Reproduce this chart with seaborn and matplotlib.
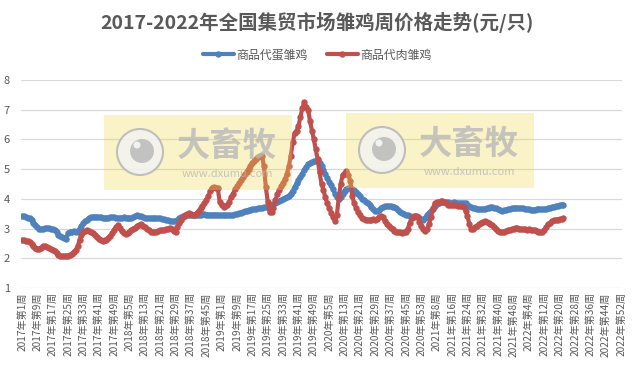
"""
2017-2022 weekly chick prices at national country fairs.
"""

import numpy as np
import pandas as pd
import matplotlib
matplotlib.use('Agg')
import matplotlib.pyplot as plt
from matplotlib.patches import Rectangle, Ellipse
from matplotlib.lines import Line2D
import seaborn as sns

W, H = 634, 375

title = '2017-2022年全国集贸市场雏鸡周价格走势(元/只)'
series_names = ['商品代蛋雏鸡', '商品代肉雏鸡']
series_colors = ['#4f81bd', '#c0504d']

tick_labels = [
    '2017年第1周', '2017年第9周', '2017年第17周', '2017年第25周', '2017年第33周',
    '2017年第41周', '2017年第49周', '2018年第5周', '2018年第13周', '2018年第21周',
    '2018年第29周', '2018年第37周', '2018年第45周', '2019年第1周', '2019年第9周',
    '2019年第17周', '2019年第25周', '2019年第33周', '2019年第41周', '2019年第49周',
    '2020年第5周', '2020年第13周', '2020年第21周', '2020年第29周', '2020年第37周',
    '2020年第45周', '2020年第53周', '2021年第8周', '2021年第16周', '2021年第24周',
    '2021年第32周', '2021年第40周', '2021年第48周', '2022年第4周', '2022年第12周',
    '2022年第20周', '2022年第28周', '2022年第36周', '2022年第44周', '2022年第52周',
]
n_weeks = 313  # 2017 W1 .. 2022 W52

# layer chicks (blue), one value per week from 2017 W1
egg_chick = [
    3.42, 3.41, 3.40, 3.37, 3.35, 3.28, 3.20, 3.12, 3.05, 3.00,
    2.98, 3.00, 3.02, 3.02, 3.01, 3.00, 2.98, 2.95, 2.88, 2.80,
    2.74, 2.70, 2.68, 2.66, 2.85, 2.90, 2.90, 2.91, 2.90, 2.92,
    3.00, 3.10, 3.18, 3.25, 3.30, 3.35, 3.38, 3.40, 3.40, 3.40,
    3.39, 3.38, 3.37, 3.36, 3.36, 3.37, 3.38, 3.38, 3.38, 3.37,
    3.36, 3.36, 3.37, 3.38, 3.37, 3.36, 3.35, 3.36, 3.38, 3.42,
    3.45, 3.42, 3.41, 3.38, 3.36, 3.35, 3.35, 3.34, 3.34, 3.35,
    3.35, 3.35, 3.34, 3.33, 3.32, 3.30, 3.28, 3.27, 3.25, 3.24,
    3.24, 3.30, 3.36, 3.40, 3.42, 3.43, 3.44, 3.45, 3.45, 3.46,
    3.46, 3.47, 3.47, 3.47, 3.48, 3.48, 3.47, 3.47, 3.46, 3.46,
    3.47, 3.47, 3.46, 3.45, 3.45, 3.45, 3.44, 3.44, 3.45, 3.45,
    3.46, 3.48, 3.50, 3.52, 3.54, 3.56, 3.58, 3.60, 3.62, 3.63,
    3.65, 3.66, 3.67, 3.68, 3.69, 3.70, 3.71, 3.72, 3.74, 3.76,
    3.80, 3.83, 3.86, 3.90, 3.93, 3.96, 4.00, 4.03, 4.06, 4.10,
    4.18, 4.28, 4.40, 4.52, 4.62, 4.74, 4.85, 4.98, 5.08, 5.16,
    5.22, 5.25, 5.26, 5.27, 5.28, 5.22, 5.12, 4.98, 4.85, 4.70,
    4.58, 4.45, 4.32, 4.18, 4.05, 3.98, 4.05, 4.18, 4.28, 4.33,
    4.35, 4.35, 4.33, 4.30, 4.22, 4.15, 4.08, 4.00, 3.95, 3.90,
    3.85, 3.78, 3.72, 3.66, 3.60, 3.58, 3.62, 3.70, 3.74, 3.75,
    3.76, 3.76, 3.75, 3.74, 3.73, 3.68, 3.62, 3.57, 3.52, 3.48,
    3.46, 3.44, 3.42, 3.40, 3.40, 3.42, 3.40, 3.35, 3.32, 3.30,
    3.36, 3.45, 3.52, 3.60, 3.68, 3.75, 3.82, 3.86, 3.88, 3.88,
    3.89, 3.88, 3.88, 3.87, 3.87, 3.88, 3.87, 3.86, 3.86, 3.85,
    3.86, 3.85, 3.80, 3.76, 3.72, 3.70, 3.68, 3.67, 3.66, 3.65,
    3.65, 3.66, 3.68, 3.70, 3.71, 3.71, 3.70, 3.68, 3.65, 3.62,
    3.60, 3.61, 3.63, 3.65, 3.66, 3.68, 3.69, 3.70, 3.70, 3.69,
    3.68, 3.68, 3.67, 3.66, 3.65, 3.64, 3.64, 3.64, 3.65, 3.66,
    3.66, 3.65, 3.66, 3.67, 3.68, 3.70, 3.72, 3.74, 3.76, 3.77,
    3.78, 3.80, 3.81,
]

# broiler chicks (red)
broiler_chick = [
    2.62, 2.60, 2.58, 2.57, 2.55, 2.48, 2.40, 2.33, 2.30, 2.32,
    2.36, 2.40, 2.40, 2.38, 2.35, 2.32, 2.28, 2.24, 2.18, 2.12,
    2.09, 2.07, 2.08, 2.08, 2.09, 2.10, 2.15, 2.22, 2.28, 2.40,
    2.62, 2.80, 2.88, 2.92, 2.95, 2.93, 2.88, 2.85, 2.78, 2.70,
    2.64, 2.60, 2.57, 2.60, 2.63, 2.68, 2.74, 2.85, 2.95, 3.05,
    3.12, 3.02, 2.92, 2.85, 2.82, 2.85, 2.90, 2.95, 3.00, 3.03,
    3.08, 3.12, 3.14, 3.10, 3.05, 3.00, 2.95, 2.90, 2.87, 2.88,
    2.90, 2.92, 2.94, 2.95, 2.96, 2.98, 3.00, 3.03, 2.98, 2.93,
    2.90, 3.05, 3.18, 3.30, 3.38, 3.44, 3.48, 3.52, 3.50, 3.46,
    3.45, 3.52, 3.60, 3.68, 3.76, 3.85, 3.95, 4.09, 4.25, 4.38,
    4.40, 4.38, 4.35, 3.88, 3.80, 3.74, 3.76, 3.78, 3.90, 4.05,
    4.18, 4.32, 4.42, 4.52, 4.62, 4.72, 4.83, 4.92, 5.02, 5.12,
    5.22, 5.28, 5.35, 5.40, 5.44, 5.45, 5.10, 4.40, 3.90, 3.55,
    3.55, 3.70, 3.95, 4.15, 4.30, 4.42, 4.55, 4.66, 4.85, 5.10,
    5.45, 5.90, 6.20, 6.30, 6.45, 6.75, 7.05, 7.25, 7.10, 7.00,
    6.63, 6.30, 6.00, 5.67, 5.33, 4.89, 4.50, 4.30, 4.05, 3.85,
    3.70, 3.54, 3.40, 3.25, 3.45, 4.05, 4.50, 4.80, 4.88, 4.93,
    4.80, 4.60, 4.10, 3.85, 3.70, 3.55, 3.45, 3.35, 3.32, 3.30,
    3.30, 3.28, 3.30, 3.32, 3.30, 3.33, 3.38, 3.41, 3.40, 3.25,
    3.14, 3.08, 3.02, 2.97, 2.93, 2.90, 2.88, 2.87, 2.86, 2.88,
    2.90, 3.00, 3.20, 3.37, 3.42, 3.42, 3.38, 3.22, 3.10, 2.98,
    2.92, 2.98, 3.15, 3.40, 3.65, 3.85, 3.88, 3.90, 3.92, 3.93,
    3.90, 3.85, 3.81, 3.80, 3.79, 3.78, 3.78, 3.77, 3.76, 3.75,
    3.72, 3.60, 3.42, 3.15, 2.97, 3.00, 3.05, 3.08, 3.14, 3.20,
    3.23, 3.25, 3.22, 3.18, 3.15, 3.12, 3.05, 2.98, 2.92, 2.88,
    2.87, 2.89, 2.92, 2.95, 2.96, 2.97, 3.00, 3.02, 3.03, 3.00,
    2.98, 2.97, 2.97, 2.96, 2.98, 2.96, 2.95, 2.94, 2.93, 2.90,
    2.88, 2.88, 2.95, 3.05, 3.14, 3.20, 3.25, 3.28, 3.30, 3.30,
    3.32, 3.33, 3.34,
]

y_ticks = [1, 2, 3, 4, 5, 6, 7, 8]

sns.set_theme(style='white')
plt.rcParams['font.family'] = ['Noto Sans CJK SC', 'DejaVu Sans']
plt.rcParams['axes.unicode_minus'] = False

text_color = '#595959'

df = pd.DataFrame({
    'week': np.arange(len(egg_chick)),
    series_names[0]: egg_chick,
    series_names[1]: broiler_chick,
})

fig = plt.figure(figsize=(W / 100, H / 100), dpi=100)
ax = fig.add_axes([21 / W, 1 - 288 / H, 601 / W, 208 / H])

for name, color in zip(series_names, series_colors):
    sns.lineplot(data=df, x='week', y=name, ax=ax, color=color, lw=3.0,
                 marker='o', markersize=4.6, markeredgewidth=0, legend=False)

ax.set_xlim(-0.5, n_weeks - 0.5)
ax.set_ylim(1, 8)
ax.set_yticks(y_ticks)
ax.set_yticklabels([str(v) for v in y_ticks], fontsize=8, color=text_color)
ax.set_xticks(np.arange(0, n_weeks, 8))
ax.set_xticklabels(tick_labels, rotation=90, fontsize=7.3, color=text_color)
ax.tick_params(axis='both', length=0, pad=3)
ax.tick_params(axis='y', pad=8)
ax.set_xlabel('')
ax.set_ylabel('')
ax.grid(axis='y', color='#d9d9d9', lw=0.9)
ax.grid(axis='x', visible=False)
for s in ax.spines.values():
    s.set_visible(False)

fig.text(0.5, 1 - 22 / H, title, ha='center', va='center', fontsize=14,
         fontweight='bold', color=text_color)

handles = [Line2D([0], [0], color=c, lw=3.0, marker='o', markersize=4.6,
                  markeredgewidth=0) for c in series_colors]
fig.legend(handles, series_names, loc='center', bbox_to_anchor=(0.5, 1 - 55 / H),
           ncol=2, frameon=False, fontsize=8.6, labelcolor=text_color,
           handlelength=2.6, columnspacing=1.6, handletextpad=0.2)


# watermark boxes laid over the plot, like the original image
def watermark(x0, y0, x1, y1):
    fig.add_artist(Rectangle((x0 / W, 1 - y1 / H), (x1 - x0) / W, (y1 - y0) / H,
                             transform=fig.transFigure, facecolor='#eed848',
                             alpha=0.3, edgecolor='none', zorder=5))
    cx, cy, r = x0 + 36, y0 + 37, 23
    fig.add_artist(Ellipse((cx / W, 1 - cy / H), 2 * r / W, 2 * r / H,
                           transform=fig.transFigure, facecolor='#f2f2f2',
                           edgecolor='#b5b5b5', lw=1.5, alpha=0.85, zorder=6))
    fig.add_artist(Ellipse(((cx + 2) / W, 1 - (cy - 1) / H), 24 / W, 24 / H,
                           transform=fig.transFigure, facecolor='#bdbdbd',
                           edgecolor='none', alpha=0.9, zorder=7))
    fig.add_artist(Ellipse(((cx - 3) / W, 1 - (cy - 7) / H), 7 / W, 7 / H,
                           transform=fig.transFigure, facecolor='#f2f2f2',
                           edgecolor='none', zorder=8))
    fig.text((x0 + 123) / W, 1 - (y0 + 31) / H, '大畜牧', ha='center',
             va='center', fontsize=24, fontweight='bold', color='#b8b8b8',
             alpha=0.8, zorder=6)
    fig.text((x0 + 123) / W, 1 - (y0 + 59) / H, 'www.dxumu.com', ha='center',
             va='center', fontsize=8, color='#b8b8b8', alpha=0.8, zorder=6)


watermark(104, 115, 292, 190)
watermark(346, 113, 534, 188)

fig.savefig('out.png', dpi=100)
